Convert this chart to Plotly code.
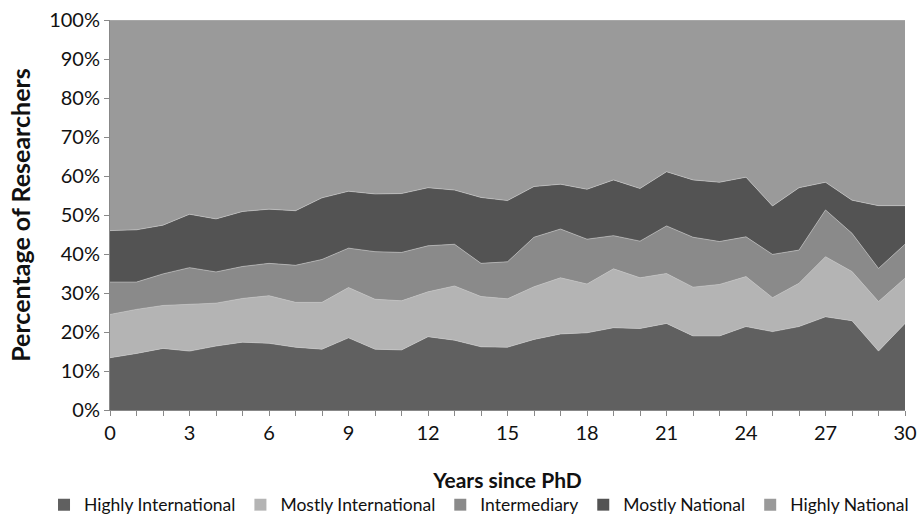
import plotly.graph_objects as go

years = list(range(0, 31))

highly_international = [13.4, 14.5, 15.8, 15.1, 16.4, 17.4, 17.1, 16.1, 15.6, 18.5, 15.6, 15.4, 18.8, 17.9, 16.2, 16.1,
                        18.1, 19.5, 19.8, 21.1, 20.9, 22.2, 19.0, 19.0, 21.4, 20.1, 21.4, 23.9, 22.9, 15.1, 22.2]
mostly_international = [11.1, 11.3, 11.0, 12.0, 11.0, 11.2, 12.2, 11.5, 12.0, 12.9, 12.8, 12.6, 11.5, 13.9, 12.9, 12.4,
                        13.5, 14.4, 12.5, 15.1, 13.0, 12.8, 12.5, 13.2, 12.8, 8.7, 11.1, 15.4, 12.6, 12.7, 11.6]
intermediary = [8.3, 7.0, 8.1, 9.4, 8.0, 8.2, 8.3, 9.5, 11.0, 10.1, 12.2, 12.4, 11.8, 10.7, 8.5, 9.5,
                12.7, 12.5, 11.5, 8.5, 9.4, 12.2, 12.8, 11.0, 10.2, 11.1, 8.5, 12.0, 9.8, 8.5, 8.7]
mostly_national = [13.2, 13.4, 12.5, 13.7, 13.6, 14.1, 13.9, 14.0, 15.8, 14.6, 14.8, 15.1, 14.9, 13.9, 16.9, 15.7,
                   13.0, 11.5, 12.8, 14.3, 13.5, 13.9, 14.7, 15.2, 15.3, 12.4, 16.0, 7.1, 8.5, 16.1, 9.9]
highly_national = [54.0, 53.8, 52.6, 49.8, 51.0, 49.1, 48.5, 48.9, 45.6, 43.9, 44.6, 44.5, 43.0, 43.6, 45.5, 46.3,
                   42.7, 42.1, 43.4, 41.0, 43.2, 38.9, 41.0, 41.6, 40.3, 47.7, 43.0, 41.6, 46.2, 47.6, 47.6]

series_names = ["Highly International", "Mostly International", "Intermediary", "Mostly National", "Highly National"]
series_values = [highly_international, mostly_international, intermediary, mostly_national, highly_national]
colors = ["#606060", "#b4b4b4", "#8a8a8a", "#535353", "#9a9a9a"]

x_tick_labels = [str(y) if y % 3 == 0 else "" for y in years]
y_tick_vals = list(range(0, 101, 10))
y_tick_labels = [f"{v}%" for v in y_tick_vals]

FONT = "Lato, Open Sans, sans-serif"

fig = go.Figure()
for name, vals, col in zip(series_names, series_values, colors):
    fig.add_trace(go.Scatter(
        x=years, y=vals, name=name, mode="lines",
        stackgroup="one", groupnorm="percent",
        line=dict(width=0.6, color="#c8c8c8"),
        fillcolor=col, showlegend=False,
    ))
# square legend swatches
for name, col in zip(series_names, colors):
    fig.add_trace(go.Bar(x=[None], y=[None], name=name, marker=dict(color=col, line=dict(width=0)),
                         showlegend=True))

fig.update_layout(
    width=921, height=518,
    margin=dict(l=110, r=16, t=20, b=108, autoexpand=False),
    paper_bgcolor="white", plot_bgcolor="white",
    font=dict(family=FONT, color="#111111", size=18),
    showlegend=True,
    legend=dict(orientation="h", x=-0.083, xanchor="left", y=-0.243, yanchor="middle",
                font=dict(size=17.5, family=FONT), itemwidth=30, traceorder="normal",
                tracegroupgap=0, bgcolor="rgba(0,0,0,0)"),
)
fig.update_xaxes(
    range=[0, 30], tickmode="array", tickvals=years, ticktext=x_tick_labels,
    ticks="outside", ticklen=5, tickcolor="#888888", showline=True, linecolor="#888888",
    showgrid=False, zeroline=False, tickfont=dict(size=20), automargin=False,
    title=dict(text="<b>Years since PhD</b>", font=dict(size=21), standoff=30),
)
fig.update_yaxes(
    range=[0, 100], tickmode="array", tickvals=y_tick_vals, ticktext=y_tick_labels,
    ticks="outside", ticklen=5, tickcolor="#888888", showline=True, linecolor="#888888",
    showgrid=False, zeroline=False, tickfont=dict(size=20), automargin=False,
    title=dict(text="<b>Percentage of Researchers</b>", font=dict(size=25), standoff=11),
)

fig.write_html("out.html", config={"displayModeBar": False},
               post_script="document.body.style.margin='0';document.body.style.overflow='hidden';")
